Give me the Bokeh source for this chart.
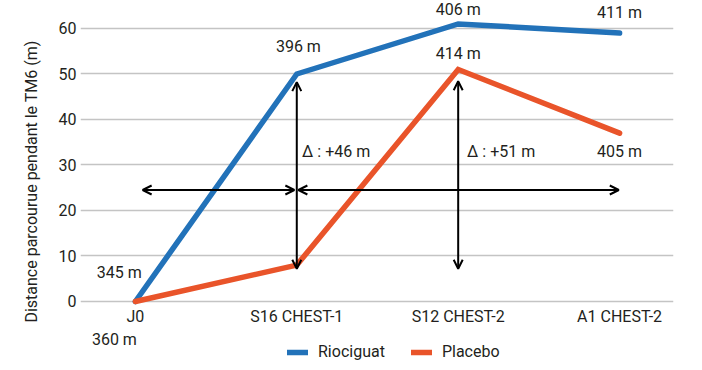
from bokeh.plotting import figure
from bokeh.models import ColumnDataSource, FixedTicker, Arrow, OpenHead, Legend, LegendItem
from bokeh.core.properties import value
from bokeh.embed import file_html
from bokeh.resources import INLINE

# ---- data ----
categories = ["J0", "S16 CHEST-1", "S12 CHEST-2", "A1 CHEST-2"]
riociguat = [0, 50, 61, 59]
placebo = [0, 8, 51, 37]
rio_labels = ["345 m", "396 m", "406 m", "411 m"]
pla_labels = ["360 m", "", "414 m", "405 m"]
delta_labels = ["\u0394 : +46 m", "\u0394 : +51 m"]
y_ticks = [0, 10, 20, 30, 40, 50, 60]
y_title = "Distance parcourue pendant le TM6 (m)"

# ---- layout / style ----
FONT = "Roboto"
FS = "16px"
TXT = "#231f20"
BLUE = "#2272b9"
ORANGE = "#e9542a"
xs = list(range(len(categories)))

p = figure(width=694, height=362, output_backend="svg", toolbar_location=None,
           x_range=(-0.34, 3.334), y_range=(-13.41, 66.15),
           min_border_left=80, min_border_right=21, min_border_top=0, min_border_bottom=0)
p.outline_line_color = None
p.background_fill_color = "white"
p.border_fill_color = "white"

p.xgrid.visible = False
p.ygrid.ticker = FixedTicker(ticks=y_ticks)
p.ygrid.grid_line_color = "#c4c4c4"
p.ygrid.grid_line_width = 1.5

p.yaxis.ticker = FixedTicker(ticks=y_ticks)
p.yaxis.axis_line_color = None
p.yaxis.major_tick_line_color = None
p.yaxis.minor_tick_line_color = None
p.yaxis.major_tick_out = 0
p.yaxis.major_label_standoff = 4
p.yaxis.major_label_text_font = FONT
p.yaxis.major_label_text_font_size = FS
p.yaxis.major_label_text_color = TXT
p.yaxis.axis_label = y_title
p.yaxis.axis_label_text_font = FONT
p.yaxis.axis_label_text_font_size = FS
p.yaxis.axis_label_text_font_style = "normal"
p.yaxis.axis_label_text_color = TXT
p.yaxis.axis_label_standoff = 15

p.xaxis.ticker = FixedTicker(ticks=xs)
p.xaxis.fixed_location = 0
p.xaxis.major_label_overrides = {i: c for i, c in enumerate(categories)}
p.xaxis.axis_line_color = None
p.xaxis.major_tick_line_color = None
p.xaxis.minor_tick_line_color = None
p.xaxis.major_tick_out = 0
p.xaxis.major_label_standoff = 6
p.xaxis.major_label_text_font = FONT
p.xaxis.major_label_text_font_size = FS
p.xaxis.major_label_text_color = TXT

# ---- lines ----
r_rio = p.line(xs, riociguat, line_color=BLUE, line_width=5.5, line_cap="round", line_join="miter")
r_pla = p.line(xs, placebo, line_color=ORANGE, line_width=5.5, line_cap="round", line_join="miter")

# ---- arrows ----
head = dict(size=9, line_width=2, line_color="black")
arrows = [
    (0.045, 24.5, 0.985, 24.5),
    (1.01, 24.5, 2.995, 24.5),
    (1.0, 7.2, 1.0, 48.2),
    (2.0, 7.2, 2.0, 48.4),
]
for x0, y0, x1, y1 in arrows:
    p.add_layout(Arrow(x_start=x0, y_start=y0, x_end=x1, y_end=y1,
                       start=OpenHead(**head), end=OpenHead(**head),
                       line_width=2, line_color="black"))

# ---- value labels ----
rio_dx = [-0.1, 0.01, 0.0, 0.0]
rio_dy = [6.4, 6.0, 3.2, 4.5]
pla_dx = [-0.13, 0.0, 0.0, 0.0]
pla_dy = [-8.35, 0.0, 3.5, -4.0]
lx, ly, lt = [], [], []
for i in xs:
    lx.append(xs[i] + rio_dx[i]); ly.append(riociguat[i] + rio_dy[i]); lt.append(rio_labels[i])
    if pla_labels[i]:
        lx.append(xs[i] + pla_dx[i]); ly.append(placebo[i] + pla_dy[i]); lt.append(pla_labels[i])
src = ColumnDataSource(dict(x=lx, y=ly, t=lt))
p.text(x="x", y="y", text="t", source=src, text_font=value(FONT), text_font_size=FS,
       text_color=TXT, text_align="center", text_baseline="middle")

dsrc = ColumnDataSource(dict(x=[1.033, 2.055], y=[33, 33], t=delta_labels))
p.text(x="x", y="y", text="t", source=dsrc, text_font=value(FONT), text_font_size=FS,
       text_color=TXT, text_align="left", text_baseline="middle")

# ---- legend ----
legend = Legend(items=[LegendItem(label="Riociguat", renderers=[r_rio]),
                       LegendItem(label="Placebo", renderers=[r_pla])],
                orientation="horizontal", location=(207, 1),
                glyph_width=21, glyph_height=18, label_standoff=10, spacing=26,
                padding=0, margin=0, border_line_color=None, background_fill_alpha=0,
                label_text_font=FONT, label_text_font_size=FS, label_text_color=TXT)
p.add_layout(legend, "center")

open("out.html", "w").write(file_html(p, INLINE))
